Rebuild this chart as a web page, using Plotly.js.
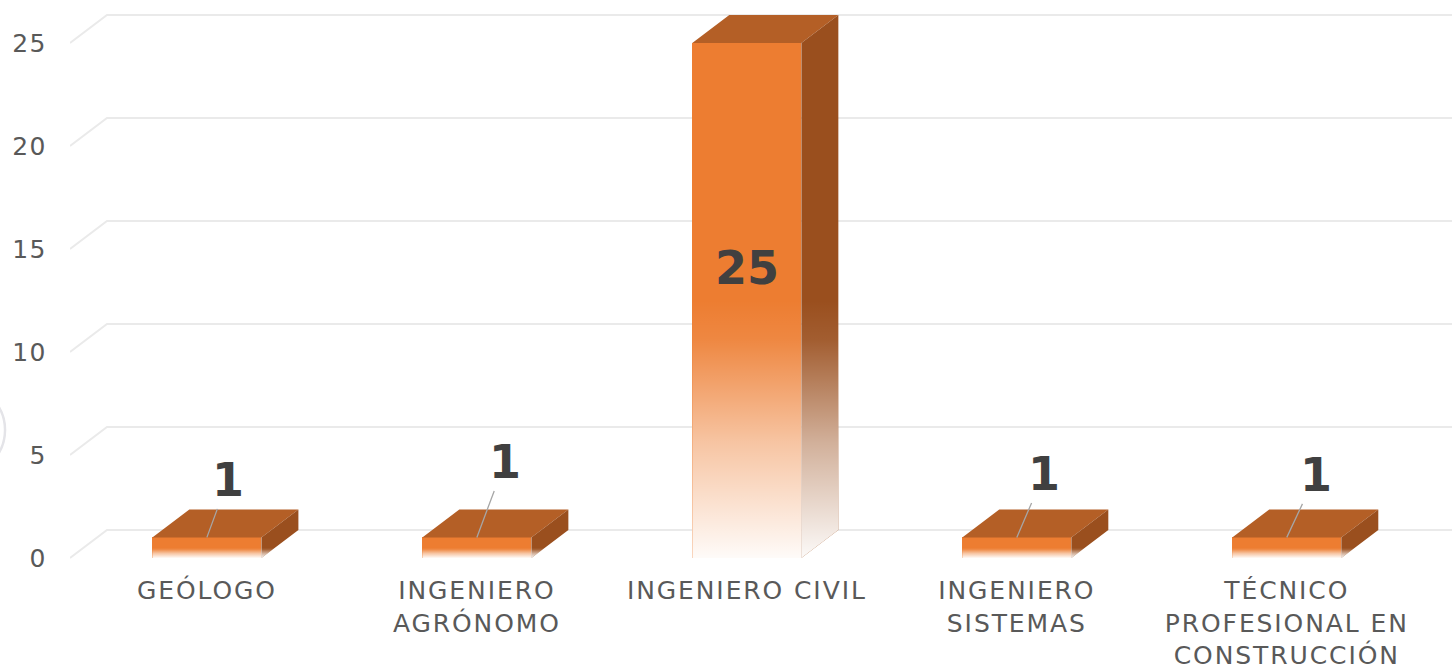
<!DOCTYPE html>
<html>
<head>
<meta charset="utf-8">
<script src="https://cdn.plot.ly/plotly-3.0.1.min.js"></script>
<style>
  html, body { margin: 0; padding: 0; background: #ffffff; }
  #chart { width: 1452px; height: 671px; }
  #chart .xtick text { letter-spacing: 1.9px; }
  #chart .ytick text { letter-spacing: 1.5px; }
</style>
</head>
<body>
<div id="chart"></div>
<script>
// ---- data ----
const categories = ['GEÓLOGO', 'INGENIERO<br>AGRÓNOMO', 'INGENIERO CIVIL', 'INGENIERO<br>SISTEMAS', 'TÉCNICO<br>PROFESIONAL EN<br>CONSTRUCCIÓN'];
const values = [1, 1, 25, 1, 1];
const yTickValues = [0, 5, 10, 15, 20, 25];
const yTickLabels = ['0', '5', '10', '15', '20', '25'];
// label offsets (px) of the data labels relative to the bar tops
const labelDX = [21, 28, 0, 27, 29];
const labelDY = [-57, -75, 0, -63, -62];

// ---- style / geometry ----
const FRONT = '#ED7D31', TOP = '#B45F26', SIDE = '#9A4F1E';
const barWidth = 0.404;          // category units
const depthX = 0.137;            // 3D depth offset in category units
const depthY = 1.36;             // 3D depth offset in value units
const xRange = [-0.507, 4.612];
const yRange = [-0.388, 26.6];

const idx = categories.map((_, i) => i);

const traces = [];

// front faces
traces.push({
  type: 'bar', x: idx, y: values, width: barWidth,
  marker: { color: FRONT, line: { width: 0 } },
  hoverinfo: 'skip', showlegend: false
});

// top and side faces
const topX = [], topY = [], sideX = [], sideY = [];
idx.forEach((c, i) => {
  const v = values[i], l = c - barWidth / 2, r = c + barWidth / 2;
  topX.push(l, r, r + depthX, l + depthX, l, null);
  topY.push(v, v, v + depthY, v + depthY, v, null);
  sideX.push(r, r + depthX, r + depthX, r, r, null);
  sideY.push(0, depthY, v + depthY, v, 0, null);
});
traces.push({ type: 'scatter', mode: 'lines', x: topX, y: topY, fill: 'toself', fillcolor: TOP,
  line: { width: 0, color: TOP }, hoverinfo: 'skip', showlegend: false });
traces.push({ type: 'scatter', mode: 'lines', x: sideX, y: sideY, fill: 'toself', fillcolor: SIDE,
  line: { width: 0, color: SIDE }, hoverinfo: 'skip', showlegend: false });

// fade (gradient) overlays at the bottom of each bar
const fadeScale = [[0, 'rgba(255,255,255,0.97)'], [0.45, 'rgba(255,255,255,0.55)'], [0.85, 'rgba(255,255,255,0.08)'], [1, 'rgba(255,255,255,0)']];
idx.forEach((c, i) => {
  const v = values[i], l = c - barWidth / 2, r = c + barWidth / 2;
  const f = v * 0.5;
  // front face fade
  traces.push({
    type: 'scatter', mode: 'lines',
    x: [l, r, r, l, l], y: [0, 0, f, f, 0],
    fill: 'toself',
    fillgradient: { type: 'vertical', start: 0, stop: f, colorscale: fadeScale },
    line: { width: 0, color: 'rgba(0,0,0,0)' },
    hoverinfo: 'skip', showlegend: false
  });
  // side face fade
  traces.push({
    type: 'scatter', mode: 'lines',
    x: [r, r + depthX, r + depthX, r, r], y: [0, depthY, f + depthY, f, 0],
    fill: 'toself',
    fillgradient: { type: 'vertical', start: 0, stop: f, colorscale: fadeScale },
    line: { width: 0, color: 'rgba(0,0,0,0)' },
    hoverinfo: 'skip', showlegend: false
  });
});

// back-wall gridlines with perspective diagonal
const shapes = yTickValues.map(v => ({
  type: 'path', xref: 'x', yref: 'y', layer: 'below',
  path: `M ${xRange[0]},${v} L ${xRange[0] + depthX},${v + depthY} L ${xRange[1]},${v + depthY}`,
  line: { color: '#EAEAEA', width: 2 }
}));
// faint decorative arc at left edge
shapes.push({ type: 'circle', xref: 'paper', yref: 'paper', x0: -0.112, x1: -0.047, y0: 0.1637, y1: 0.3255,
  line: { color: '#E4E4E8', width: 2.5 }, fillcolor: 'rgba(0,0,0,0)', layer: 'below' });

// data labels
const annotations = idx.map((c, i) => {
  const v = values[i];
  const hasArrow = labelDX[i] !== 0 || labelDY[i] !== 0;
  return hasArrow ? {
    x: c, y: v, xref: 'x', yref: 'y',
    text: String(v), showarrow: true, arrowhead: 0, arrowwidth: 1.3, arrowcolor: '#A6A6A6',
    ax: labelDX[i], ay: labelDY[i], standoff: 0,
    font: { family: 'DejaVu Sans, Verdana, sans-serif', size: 46, color: '#404040', weight: 'bold' }
  } : {
    x: c, y: v / 2, xref: 'x', yref: 'y', yshift: 32,
    text: String(v), showarrow: false,
    font: { family: 'DejaVu Sans, Verdana, sans-serif', size: 46, color: '#404040', weight: 'bold' }
  };
});

const layout = {
  width: 1452, height: 671,
  margin: { l: 70, r: 0, t: 10, b: 105 },
  paper_bgcolor: '#ffffff', plot_bgcolor: 'rgba(0,0,0,0)',
  showlegend: false,
  bargap: 0,
  xaxis: {
    type: 'linear', range: xRange, tickvals: idx, ticktext: categories,
    showgrid: false, zeroline: false, showline: false, ticks: '',
    ticklabelstandoff: 7,
    tickfont: { family: 'DejaVu Sans, Verdana, sans-serif', size: 25, color: '#595959' },
    fixedrange: true
  },
  yaxis: {
    range: yRange, tickvals: yTickValues, ticktext: yTickLabels,
    showgrid: false, zeroline: false, showline: false, ticks: '',
    ticklabelstandoff: 22,
    tickfont: { family: 'DejaVu Sans, Verdana, sans-serif', size: 25, color: '#595959' },
    fixedrange: true
  },
  shapes: shapes,
  annotations: annotations
};

Plotly.newPlot('chart', traces, layout, { displayModeBar: false, staticPlot: true });
</script>
</body>
</html>
